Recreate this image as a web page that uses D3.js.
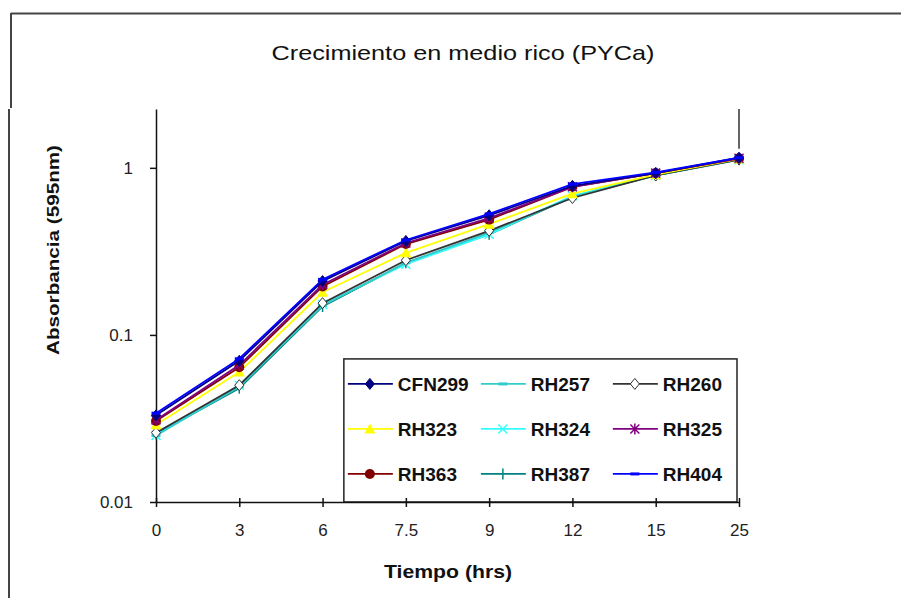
<!DOCTYPE html>
<html>
<head>
<meta charset="utf-8">
<script src="https://cdn.jsdelivr.net/npm/d3@7"></script>
<style>
  body { margin: 0; background: #fff; }
  text { font-family: "Liberation Sans", Arial, sans-serif; }
</style>
</head>
<body>
<div id="chart"></div>
<script>
'use strict';

// Data
const times = ["0", "3", "6", "7.5", "9", "12", "15", "25"];
const seriesNames = ["CFN299", "RH257", "RH260", "RH323", "RH324", "RH325", "RH363", "RH387", "RH404"];
const CFN299 = [0.033, 0.070, 0.210, 0.365, 0.52, 0.78, 0.93, 1.15];
const RH257 = [0.025, 0.049, 0.150, 0.270, 0.41, 0.67, 0.90, 1.12];
const RH260 = [0.026, 0.050, 0.155, 0.280, 0.42, 0.66, 0.90, 1.12];
const RH323 = [0.029, 0.060, 0.180, 0.310, 0.46, 0.70, 0.91, 1.13];
const RH324 = [0.025, 0.050, 0.152, 0.265, 0.40, 0.68, 0.90, 1.12];
const RH325 = [0.031, 0.066, 0.200, 0.355, 0.50, 0.77, 0.93, 1.14];
const RH363 = [0.0305, 0.064, 0.195, 0.350, 0.49, 0.77, 0.93, 1.14];
const RH387 = [0.0255, 0.048, 0.148, 0.270, 0.40, 0.67, 0.90, 1.12];
const RH404 = [0.034, 0.072, 0.215, 0.370, 0.53, 0.80, 0.94, 1.15];
const yTicks = [0.01, 0.1, 1];
const yTickLabels = ["0.01", "0.1", "1"];

const seriesValues = [CFN299, RH257, RH260, RH323, RH324, RH325, RH363, RH387, RH404];
const seriesColors = ["#000080", "#33CCCC", "#333333", "#FFFF00", "#33FFFF", "#800080", "#800000", "#008080", "#0000FF"];
const seriesMarkers = ["diamond", "dash", "diamondOpen", "triangle", "cross", "star", "circle", "plus", "dash"];

// draw order: bottom series first so top ones are on top
const drawOrder = [7, 4, 1, 2, 3, 6, 5, 0, 8];

const W = 901, H = 598;
const margin = { top: 109, right: 162, bottom: 96, left: 156 };
const width = W - margin.left - margin.right;
const height = H - margin.top - margin.bottom;

const svg = d3.select("#chart").append("svg")
    .attr("width", W)
    .attr("height", H);

// outer frame pieces
svg.append("line").attr("x1", 11).attr("x2", W).attr("y1", 13.5).attr("y2", 13.5)
    .attr("stroke", "#444").attr("stroke-width", 2);
svg.append("line").attr("x1", 11).attr("x2", 11).attr("y1", 13).attr("y2", 108)
    .attr("stroke", "#444").attr("stroke-width", 2);
svg.append("line").attr("x1", 9).attr("x2", 9).attr("y1", 109).attr("y2", H)
    .attr("stroke", "#444").attr("stroke-width", 2);

// title
svg.append("text")
    .attr("x", 463)
    .attr("y", 60)
    .attr("text-anchor", "middle")
    .attr("textLength", 383)
    .attr("lengthAdjust", "spacingAndGlyphs")
    .style("font-size", "21px")
    .attr("fill", "#111")
    .text("Crecimiento en medio rico (PYCa)");

const g = svg.append("g").attr("transform", `translate(${margin.left},${margin.top})`);

const x = d3.scalePoint().domain(times).range([0, width]);
const y = d3.scaleLog().domain([0.01, 2.25]).range([height, 0]);

// partial right edge of plot area
g.append("line")
    .attr("x1", width).attr("x2", width)
    .attr("y1", 0).attr("y2", y(1.3))
    .attr("stroke", "#333").attr("stroke-width", 1.5);

// legend box (behind lines)
const legendCols = 3;
const legend = g.append("g").attr("class", "legend")
    .attr("transform", `translate(${x("7.5") - 62},${y(0.1) + 24})`);
const lgW = width - (x("7.5") - 62) - 2;
const lgH = height - (y(0.1) + 24);
legend.append("rect")
    .attr("width", lgW)
    .attr("height", lgH)
    .attr("fill", "#fff")
    .attr("stroke", "#222")
    .attr("stroke-width", 1.5);

// axes
const xAxis = g.append("g")
    .attr("transform", `translate(0,${height})`)
    .call(d3.axisBottom(x).tickSize(5).tickSizeOuter(0).tickPadding(17));
const yAxis = g.append("g")
    .call(d3.axisLeft(y).tickValues(yTicks).tickFormat((d, i) => yTickLabels[i]).tickSize(6).tickSizeOuter(0).tickPadding(17));
[xAxis, yAxis].forEach(a => {
    a.attr("font-size", 17).attr("font-family", "'Liberation Sans', Arial, sans-serif");
    a.select(".domain").attr("stroke", "#111").attr("stroke-width", 1.5);
    a.selectAll(".tick line").attr("stroke", "#111").attr("stroke-width", 1.5);
    a.selectAll(".tick text").attr("fill", "#222");
});
// cross ticks on x axis (extend above too)
xAxis.selectAll(".tick").append("line")
    .attr("y1", 0).attr("y2", -4).attr("stroke", "#111").attr("stroke-width", 1.5);

// axis labels
svg.append("text")
    .attr("x", 448)
    .attr("y", 578)
    .attr("text-anchor", "middle")
    .attr("textLength", 128)
    .attr("lengthAdjust", "spacingAndGlyphs")
    .style("font-size", "19px")
    .style("font-weight", "bold")
    .attr("fill", "#111")
    .text("Tiempo (hrs)");

svg.append("text")
    .attr("transform", "translate(59,250) rotate(-90)")
    .attr("text-anchor", "middle")
    .attr("textLength", 210)
    .attr("lengthAdjust", "spacingAndGlyphs")
    .style("font-size", "17px")
    .style("font-weight", "bold")
    .attr("fill", "#111")
    .text("Absorbancia (595nm)");

// marker drawing helper
function drawMarker(sel, type, color) {
    const s = 4.5;
    if (type === "diamond" || type === "diamondOpen") {
        sel.append("path")
            .attr("d", `M0,${-s - 1}L${s},0L0,${s + 1}L${-s},0Z`)
            .attr("fill", type === "diamond" ? color : "#fff")
            .attr("stroke", color).attr("stroke-width", 1);
    } else if (type === "triangle") {
        sel.append("path")
            .attr("d", `M0,${-s - 1}L${s + 1},${s}L${-s - 1},${s}Z`)
            .attr("fill", color);
    } else if (type === "circle") {
        sel.append("circle").attr("r", s + 0.5).attr("fill", color);
    } else if (type === "dash") {
        sel.append("rect").attr("x", -s).attr("y", -1.5).attr("width", 2 * s).attr("height", 3).attr("fill", color);
    } else if (type === "cross") {
        sel.append("path").attr("d", `M${-s},${-s}L${s},${s}M${-s},${s}L${s},${-s}`)
            .attr("stroke", color).attr("stroke-width", 1.5);
    } else if (type === "plus") {
        sel.append("path").attr("d", `M0,${-s - 1}L0,${s + 1}`)
            .attr("stroke", color).attr("stroke-width", 1.5);
    } else if (type === "star") {
        sel.append("path").attr("d", `M${-s},${-s}L${s},${s}M${-s},${s}L${s},${-s}M0,${-s - 1}L0,${s + 1}`)
            .attr("stroke", color).attr("stroke-width", 1.5);
    }
}

const line = d3.line()
    .x((d, i) => x(times[i]))
    .y(d => y(d));

drawOrder.forEach(k => {
    const color = seriesColors[k];
    const sg = g.append("g").attr("class", "series");
    sg.append("path")
        .datum(seriesValues[k])
        .attr("d", line)
        .attr("fill", "none")
        .attr("stroke", color)
        .attr("stroke-width", 1.8);
    seriesValues[k].forEach((v, i) => {
        const m = sg.append("g").attr("transform", `translate(${x(times[i])},${y(v)})`);
        drawMarker(m, seriesMarkers[k], color);
    });
});

// legend items
const colW = [0, 133, 265];
const rowH = 45;
seriesNames.forEach((name, i) => {
    const r = Math.floor(i / legendCols), c = i % legendCols;
    const item = legend.append("g")
        .attr("transform", `translate(${4 + colW[c]},${25 + r * rowH})`);
    item.append("line")
        .attr("x1", 0).attr("x2", 45)
        .attr("stroke", seriesColors[i]).attr("stroke-width", 1.8);
    drawMarker(item.append("g").attr("transform", "translate(22,0)"), seriesMarkers[i], seriesColors[i]);
    item.append("text")
        .attr("x", 50)
        .attr("y", 7)
        .style("font-size", "19px")
        .style("font-weight", "bold")
        .attr("fill", "#111")
        .text(name);
});
</script>
</body>
</html>
